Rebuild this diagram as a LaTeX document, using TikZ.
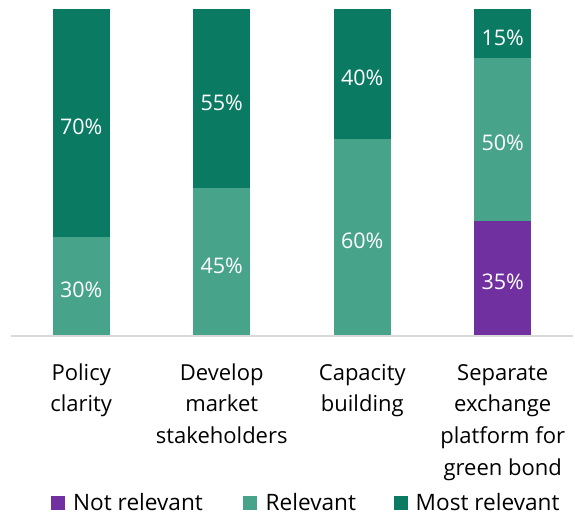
\documentclass[tikz,border=0pt]{standalone}
\usepackage{fontspec}
\setmainfont{Open Sans}
\definecolor{mostrel}{HTML}{0B7A62}
\definecolor{rel}{HTML}{48A38B}
\definecolor{notrel}{HTML}{7030A0}
\definecolor{axisgray}{HTML}{D9D9D9}
\tikzset{
  pct/.style={text=white, font=\fontsize{21.5}{25}\selectfont, anchor=base, inner sep=0pt},
  cat/.style={text=black, font=\fontsize{22}{26}\selectfont, anchor=base, inner sep=0pt},
  leg/.style={text=black, font=\fontsize{22.6}{26}\selectfont, anchor=base west, inner sep=0pt},
  legbox/.style={minimum size=14pt, inner sep=0pt, anchor=north west}
}
\begin{document}
\begin{tikzpicture}[x=1pt,y=-1pt]
\useasboundingbox (0,0) rectangle (575,515);
% bars (x center 81.25, 221.75, 362.25, 502.75; width 57)
% bar 1
\fill[mostrel] (52.75,9) rectangle (109.75,237.2);
\fill[rel] (52.75,237.2) rectangle (109.75,335);
% bar 2
\fill[mostrel] (193.25,9) rectangle (250.25,188.3);
\fill[rel] (193.25,188.3) rectangle (250.25,335);
% bar 3
\fill[mostrel] (333.75,9) rectangle (390.75,139.4);
\fill[rel] (333.75,139.4) rectangle (390.75,335);
% bar 4
\fill[mostrel] (474.25,9) rectangle (531.25,57.9);
\fill[rel] (474.25,57.9) rectangle (531.25,220.9);
\fill[notrel] (474.25,220.9) rectangle (531.25,335);
% axis
\draw[axisgray, line width=1.5pt] (11,335.75) -- (573,335.75);
% percentage labels
\node[pct] (p1a) at (81.25,134) {70\%};
\node[pct] (p1b) at (81.25,297) {30\%};
\node[pct] (p2a) at (221.75,110) {55\%};
\node[pct] (p2b) at (221.75,273) {45\%};
\node[pct] (p3a) at (362.25,85) {40\%};
\node[pct] (p3b) at (362.25,248) {60\%};
\node[pct] (p4a) at (502.75,45) {15\%};
\node[pct] (p4b) at (502.75,150.5) {50\%};
\node[pct] (p4c) at (502.75,289) {35\%};
% category labels
\node[cat] (c1a) at (81.25,380) {Policy};
\node[cat] (c1b) at (81.25,411.7) {clarity};
\node[cat] (c2a) at (221.75,380) {Develop};
\node[cat] (c2b) at (221.75,411.7) {market};
\node[cat] (c2c) at (221.75,443.3) {stakeholders};
\node[cat] (c3a) at (362.25,380) {Capacity};
\node[cat] (c3b) at (362.25,411.7) {building};
\node[cat] (c4a) at (502.75,380) {Separate};
\node[cat] (c4b) at (502.75,411.7) {exchange};
\node[cat] (c4c) at (502.75,443.3) {platform for};
\node[cat] (c4d) at (502.75,475) {green bond};
% legend
\node[legbox, fill=notrel] (lb1) at (50.5,496) {};
\node[leg] (lt1) at (73,510) {Not relevant};
\node[legbox, fill=rel] (lb2) at (243,496) {};
\node[leg] (lt2) at (265.5,510) {Relevant};
\node[legbox, fill=mostrel] (lb3) at (393.5,496) {};
\node[leg] (lt3) at (415.5,510) {Most relevant};
\end{tikzpicture}
\end{document}
